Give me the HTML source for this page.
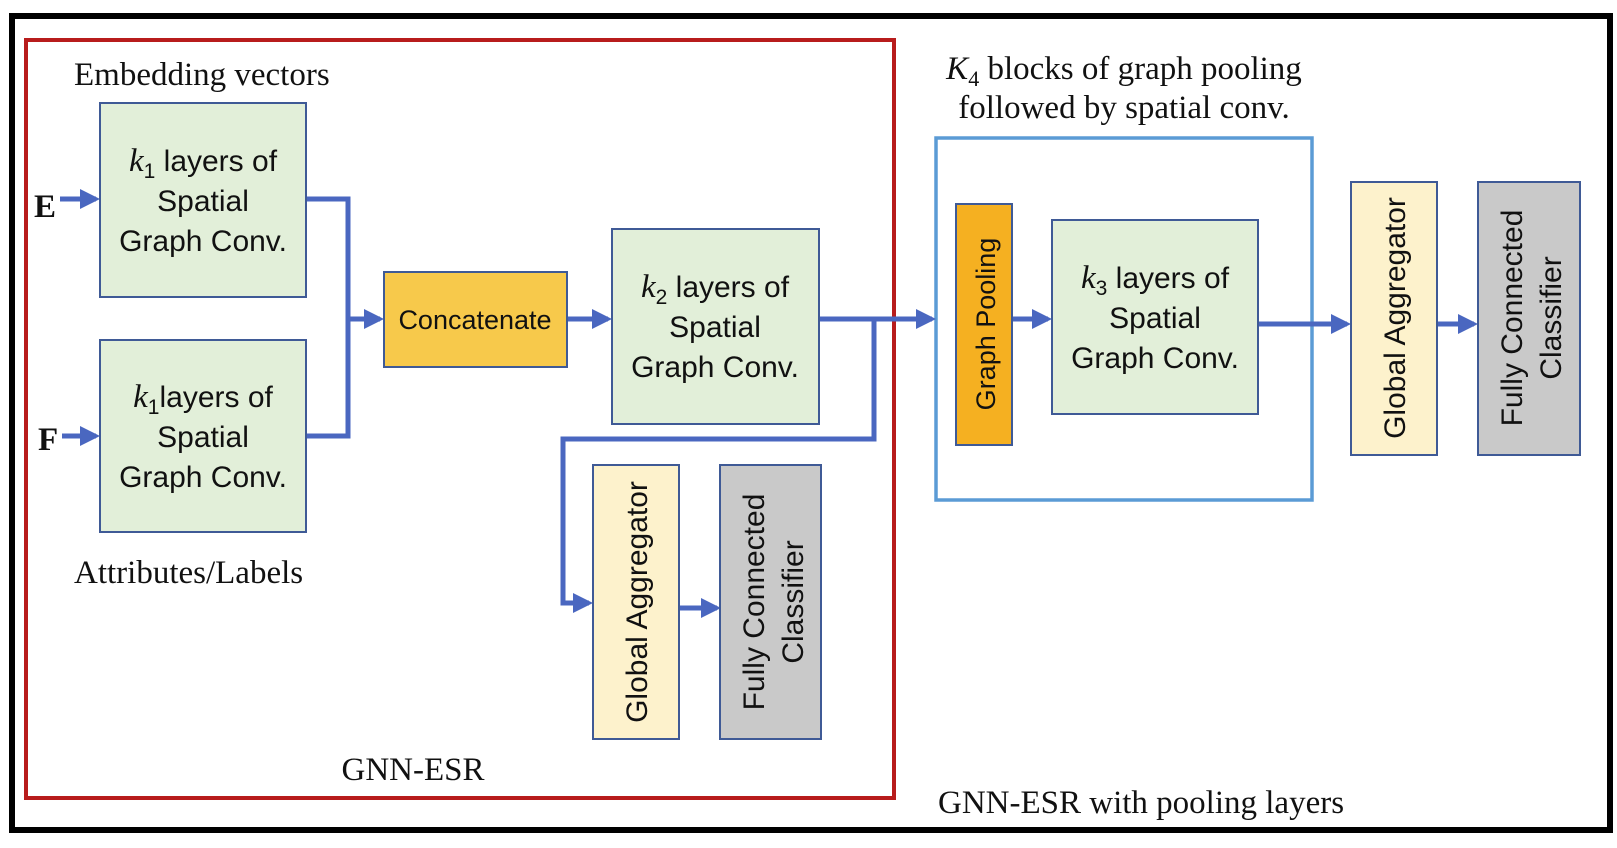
<!DOCTYPE html>
<html><head><meta charset="utf-8"><style>
html,body{margin:0;padding:0;background:#fff;}
svg{display:block;}
.s{font-family:"Liberation Sans",sans-serif;font-size:30px;fill:#111;}
.t{font-family:"Liberation Serif",serif;font-size:33px;fill:#111;}
.m{font-family:"Liberation Serif",serif;font-style:italic;}
</style></head><body>
<svg width="1617" height="848" viewBox="0 0 1617 848" xmlns="http://www.w3.org/2000/svg">
<defs>
<marker id="a" markerWidth="4" markerHeight="4" refX="3.2" refY="2" orient="auto" markerUnits="strokeWidth">
<path d="M0,0 L4,2 L0,4 Z" fill="#4a67c0"/></marker>
</defs>
<rect x="12" y="16" width="1598" height="814" fill="none" stroke="#000" stroke-width="6"/>
<rect x="26" y="40" width="868" height="758" fill="none" stroke="#b81c1c" stroke-width="4"/>
<rect x="936" y="138" width="376" height="362" fill="none" stroke="#5b9bd5" stroke-width="3.5"/>

<g fill="none" stroke="#4a67c0" stroke-width="5">
<path d="M307,199 H348 V436 H307"/>
<path d="M348,319 H380" marker-end="url(#a)"/>
<path d="M567,319 H608" marker-end="url(#a)"/>
<path d="M819,319 H932" marker-end="url(#a)"/>
<path d="M874,319 V439 H563 V603 H589" marker-end="url(#a)"/>
<path d="M679,608 H717" marker-end="url(#a)"/>
<path d="M1012,319 H1048" marker-end="url(#a)"/>
<path d="M1258,324 H1347" marker-end="url(#a)"/>
<path d="M1437,324 H1474" marker-end="url(#a)"/>
<path d="M60,199 H96" marker-end="url(#a)"/>
<path d="M62,436 H96" marker-end="url(#a)"/>
</g>

<g stroke="#3f5a96" stroke-width="2">
<rect x="100" y="103" width="206" height="194" fill="#e2efd9"/>
<rect x="100" y="340" width="206" height="192" fill="#e2efd9"/>
<rect x="384" y="272" width="183" height="95" fill="#f7c94b"/>
<rect x="612" y="229" width="207" height="195" fill="#e2efd9"/>
<rect x="593" y="465" width="86" height="274" fill="#fdf2cc"/>
<rect x="720" y="465" width="101" height="274" fill="#c9c9c9"/>
<rect x="956" y="204" width="56" height="241" fill="#f5b021"/>
<rect x="1052" y="220" width="206" height="194" fill="#e2efd9"/>
<rect x="1351" y="182" width="86" height="273" fill="#fdf2cc"/>
<rect x="1478" y="182" width="102" height="273" fill="#c9c9c9"/>
</g>

<text class="t" x="74" y="85">Embedding vectors</text>
<text class="t" x="74" y="583">Attributes/Labels</text>
<text class="t" x="34" y="217" font-weight="bold" font-size="36">E</text>
<text class="t" x="38" y="450" font-weight="bold" font-size="36">F</text>
<text class="t" x="413" y="780" text-anchor="middle">GNN-ESR</text>
<text class="t" x="938" y="813">GNN-ESR with pooling layers</text>
<text class="t" x="1124" y="79" text-anchor="middle"><tspan class="m">K</tspan><tspan font-size="22" dy="7">4</tspan><tspan dy="-7"> blocks of graph pooling</tspan></text>
<text class="t" x="1124" y="118" text-anchor="middle">followed by spatial conv.</text>

<g class="s" text-anchor="middle">
<text x="203" y="171"><tspan class="m" font-size="33">k</tspan><tspan font-size="21" dy="7">1</tspan><tspan dy="-7"> layers of</tspan></text>
<text x="203" y="211">Spatial</text>
<text x="203" y="251">Graph Conv.</text>
<text x="203" y="407"><tspan class="m" font-size="33">k</tspan><tspan font-size="21" dy="7">1</tspan><tspan dy="-7">layers of</tspan></text>
<text x="203" y="447">Spatial</text>
<text x="203" y="487">Graph Conv.</text>
<text x="475" y="329" font-size="27">Concatenate</text>
<text x="715" y="297"><tspan class="m" font-size="33">k</tspan><tspan font-size="21" dy="7">2</tspan><tspan dy="-7"> layers of</tspan></text>
<text x="715" y="337">Spatial</text>
<text x="715" y="377">Graph Conv.</text>
<text x="1155" y="288"><tspan class="m" font-size="33">k</tspan><tspan font-size="21" dy="7">3</tspan><tspan dy="-7"> layers of</tspan></text>
<text x="1155" y="328">Spatial</text>
<text x="1155" y="368">Graph Conv.</text>
<text transform="translate(995,324) rotate(-90)" font-size="27">Graph Pooling</text>
<text transform="translate(647,602) rotate(-90)" font-size="30">Global Aggregator</text>
<text transform="translate(764,602) rotate(-90)" font-size="30">Fully Connected</text>
<text transform="translate(803,602) rotate(-90)" font-size="30">Classifier</text>
<text transform="translate(1405,318) rotate(-90)" font-size="30">Global Aggregator</text>
<text transform="translate(1522,318) rotate(-90)" font-size="30">Fully Connected</text>
<text transform="translate(1561,318) rotate(-90)" font-size="30">Classifier</text>
</g>
</svg>
</body></html>
